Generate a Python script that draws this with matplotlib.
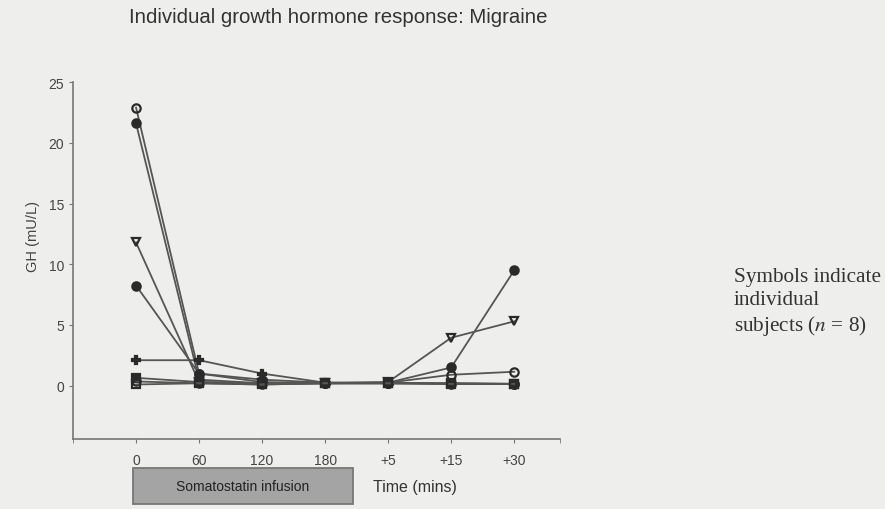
import matplotlib
matplotlib.use('Agg')
import matplotlib.pyplot as plt
from matplotlib.patches import Rectangle

plt.rcParams['font.family'] = ['Liberation Sans', 'DejaVu Sans']
plt.rcParams['mathtext.fontset'] = 'stix'

time_labels = ['0', '60', '120', '180', '+5', '+15', '+30']

# GH (mU/L) per subject at each time point
subj_a = [22.9, 1.0, 0.5, 0.25, 0.25, 0.9, 1.15]
subj_b = [21.6, 0.5, 0.2, 0.2, 0.25, 1.5, 9.5]
subj_c = [11.8, 0.3, 0.2, 0.2, 0.3, 3.95, 5.3]
subj_d = [8.25, 1.0, 0.3, 0.2, 0.2, 0.2, 0.15]
subj_e = [2.1, 2.1, 1.0, 0.25, 0.25, 0.15, 0.15]
subj_f = [0.65, 0.3, 0.2, 0.2, 0.2, 0.2, 0.15]
subj_g = [0.35, 0.2, 0.1, 0.2, 0.2, 0.15, 0.15]
subj_h = [0.1, 0.2, 0.1, 0.2, 0.2, 0.15, 0.15]

subjects = [
    (subj_a, 'o', 'none'),
    (subj_b, 'o', '#2a2a2a'),
    (subj_c, 'v', 'none'),
    (subj_d, 'o', '#2a2a2a'),
    (subj_e, 'P', 'none'),
    (subj_f, 's', '#2a2a2a'),
    (subj_g, 'o', 'none'),
    (subj_h, 's', 'none'),
]

bg = '#eeeeec'
fig = plt.figure(figsize=(8.85, 5.10), dpi=100, facecolor=bg)
ax = fig.add_axes([0.0825, 0.137, 0.5505, 0.700])
ax.set_facecolor(bg)

x = list(range(len(time_labels)))
for vals, mk, fc in subjects:
    ax.plot(x, vals, color='#555555', lw=1.3, marker=mk, markersize=6,
            markerfacecolor=fc, markeredgecolor='#2a2a2a', markeredgewidth=1.6)

ax.set_xlim(-1, 6.73)
ax.set_ylim(-4.4, 25)
ax.set_xticks(x)
ax.set_xticklabels(time_labels)
ax.set_xticks([-1, 6.73], minor=True)
ax.set_yticks([0, 5, 10, 15, 20, 25])

for side in ['top', 'right']:
    ax.spines[side].set_visible(False)
for side in ['left', 'bottom']:
    ax.spines[side].set_color('#777777')
    ax.spines[side].set_linewidth(1.2)
ax.tick_params(axis='both', which='both', colors='#777777', labelcolor='#444444',
               labelsize=10, length=3)
ax.tick_params(axis='x', pad=7)
ax.set_ylabel('GH (mU/L)', fontsize=10.5, color='#444444')
ax.yaxis.set_label_coords(-0.068, 0.57)

fig.text(0.146, 0.965, 'Individual growth hormone response: Migraine',
         fontsize=14.7, color='#333333', va='center')

# somatostatin infusion bar
fig.add_artist(Rectangle((133 / 885, 1 - 505 / 510), 220 / 885, 36 / 510,
                         transform=fig.transFigure, facecolor='#a4a4a4',
                         edgecolor='#777777', lw=1.3))
fig.text(243 / 885, 1 - 487 / 510, 'Somatostatin infusion', fontsize=10,
         color='#222222', ha='center', va='center')
fig.text(373 / 885, 1 - 488 / 510, 'Time (mins)', fontsize=11.5,
         color='#333333', ha='left', va='center')

fig.text(734 / 885, 1 - 303 / 510,
         'Symbols indicate\nindividual\nsubjects ($n$ = 8)',
         fontsize=15.3, family='Liberation Serif', color='#333333',
         ha='left', va='center', linespacing=1.25)

fig.savefig('out.png', dpi=100, facecolor=bg)
